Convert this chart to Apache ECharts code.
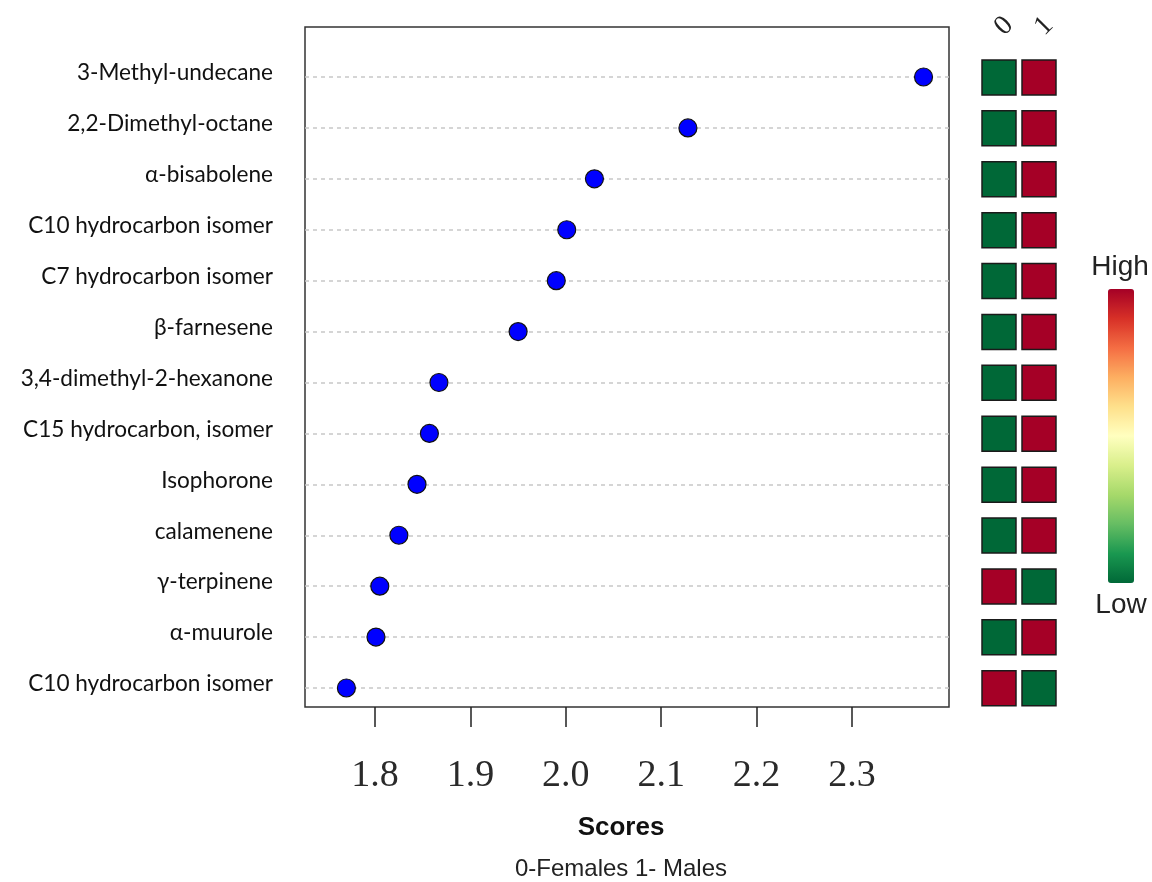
<!DOCTYPE html>
<html>
<head>
<meta charset="utf-8">
<script src="https://cdn.jsdelivr.net/npm/echarts@6/dist/echarts.min.js"></script>
<style>
  html, body { margin: 0; padding: 0; background: #ffffff; }
  #chart { width: 1152px; height: 882px; }
</style>
</head>
<body>
<div id="chart"></div>
<script>
// Compounds ranked by score (top to bottom)
const compounds = [
  '3-Methyl-undecane',
  '2,2-Dimethyl-octane',
  'α-bisabolene',
  'C10 hydrocarbon isomer',
  'C7 hydrocarbon isomer',
  'β-farnesene',
  '3,4-dimethyl-2-hexanone',
  'C15 hydrocarbon, isomer',
  'Isophorone',
  'calamenene',
  'γ-terpinene',
  'α-muurole',
  'C10 hydrocarbon isomer'
];

// Importance score of each compound
const scores = [2.375, 2.128, 2.030, 2.001, 1.990, 1.950, 1.867, 1.857, 1.844, 1.825, 1.805, 1.801, 1.770];

// Group columns: 0 = females, 1 = males
const groups = ['0', '1'];
// Relative level per compound (0 = low, 1 = high)
const femaleLevel = [0, 0, 0, 0, 0, 0, 0, 0, 0, 0, 1, 0, 1];
const maleLevel   = [1, 1, 1, 1, 1, 1, 1, 1, 1, 1, 0, 1, 0];

// Score axis ticks and extent
const scoreTicks = [1.8, 1.9, 2.0, 2.1, 2.2, 2.3];
const scoreMin = 1.7266;
const scoreMax = 2.4017;

const dotData = scores.map((s, i) => [s, i]);
const cellData = [];
compounds.forEach((c, i) => {
  cellData.push([0, i, femaleLevel[i]]);
  cellData.push([1, i, maleLevel[i]]);
});

const chart = echarts.init(document.getElementById('chart'), null, { renderer: 'canvas' });

const noBounds = { outerBoundsMode: 'none', containLabel: false };

chart.setOption({
  backgroundColor: '#ffffff',
  animation: false,
  grid: [
    // framed box carrying the score axis
    Object.assign({ left: 305, top: 27, width: 644, height: 680, show: true, borderColor: '#333333',
      borderWidth: 1.5, backgroundColor: 'transparent' }, noBounds),
    // dot rows with dashed guides
    Object.assign({ left: 305, top: 77, width: 644, height: 611 }, noBounds),
    // group level cells
    Object.assign({ left: 979, top: 52, width: 80, height: 661.7 }, noBounds),
    // compound names, set slightly above their rows
    Object.assign({ left: 305, top: 73, width: 644, height: 611 }, noBounds)
  ],
  xAxis: [
    {
      gridIndex: 0, type: 'value', min: scoreMin, max: scoreMax,
      axisLine: { show: false },
      splitLine: { show: false },
      axisTick: { show: true, length: 20, inside: false, customValues: scoreTicks,
        lineStyle: { color: '#222222', width: 1.5 } },
      axisLabel: { show: true, customValues: scoreTicks, margin: 50,
        formatter: v => v.toFixed(1),
        fontFamily: 'Liberation Serif', fontSize: 38, color: '#2a2a2a' }
    },
    { gridIndex: 1, type: 'value', min: scoreMin, max: scoreMax, show: false },
    {
      gridIndex: 2, type: 'category', data: groups, position: 'top',
      axisLine: { show: false }, axisTick: { show: false }, splitLine: { show: false },
      axisLabel: { rotate: -45, margin: 21, fontFamily: 'Liberation Serif', fontSize: 28, color: '#222222' }
    },
    { gridIndex: 3, type: 'value', min: scoreMin, max: scoreMax, show: false }
  ],
  yAxis: [
    { gridIndex: 0, type: 'value', show: false, min: 0, max: 1 },
    {
      gridIndex: 1, type: 'category', data: compounds, inverse: true, boundaryGap: false,
      axisLine: { show: false }, axisTick: { show: false }, axisLabel: { show: false },
      splitLine: { show: true, lineStyle: { color: '#c8c8c8', type: [4, 4], width: 1.5 } }
    },
    { gridIndex: 2, type: 'category', data: compounds, inverse: true, show: false },
    {
      gridIndex: 3, type: 'category', data: compounds, inverse: true, boundaryGap: false,
      axisLine: { show: false }, axisTick: { show: false }, splitLine: { show: false },
      axisLabel: { margin: 32, fontFamily: 'Lato', fontSize: 22.6, color: '#111111' }
    }
  ],
  visualMap: {
    type: 'continuous',
    min: 0, max: 1,
    seriesIndex: 1,
    dimension: 2,
    calculable: false,
    orient: 'vertical',
    left: 1108, top: 289,
    itemWidth: 26, itemHeight: 294,
    padding: 0,
    text: null,
    inRange: {
      color: ['#006837', '#1a9850', '#66bd63', '#a6d96a', '#d9ef8b', '#ffffbf',
              '#fee08b', '#fdae61', '#f46d43', '#d73027', '#a50026']
    }
  },
  graphic: [
    { type: 'text', x: 1120, y: 267, style: { text: 'High', align: 'center', verticalAlign: 'middle',
      fontFamily: 'Liberation Sans', fontSize: 28, fill: '#222222' } },
    { type: 'text', x: 1121, y: 605, style: { text: 'Low', align: 'center', verticalAlign: 'middle',
      fontFamily: 'Liberation Sans', fontSize: 28, fill: '#222222' } },
    { type: 'text', x: 621, y: 828, style: { text: 'Scores', align: 'center', verticalAlign: 'middle',
      fontFamily: 'Liberation Sans', fontWeight: 'bold', fontSize: 26, fill: '#111111' } },
    { type: 'text', x: 621, y: 869, style: { text: '0-Females 1- Males', align: 'center', verticalAlign: 'middle',
      fontFamily: 'Liberation Sans', fontSize: 24, fill: '#222222' } }
  ],
  series: [
    {
      type: 'scatter', xAxisIndex: 1, yAxisIndex: 1,
      data: dotData,
      symbol: 'circle', symbolSize: 18,
      itemStyle: { color: '#0000ff', borderColor: '#111111', borderWidth: 1.2, opacity: 1 },
      z: 5
    },
    {
      type: 'scatter', xAxisIndex: 2, yAxisIndex: 2,
      data: cellData,
      symbol: 'rect', symbolSize: [34, 35],
      itemStyle: { borderColor: '#1a1a1a', borderWidth: 1.5, opacity: 1 }
    }
  ]
});
</script>
</body>
</html>
